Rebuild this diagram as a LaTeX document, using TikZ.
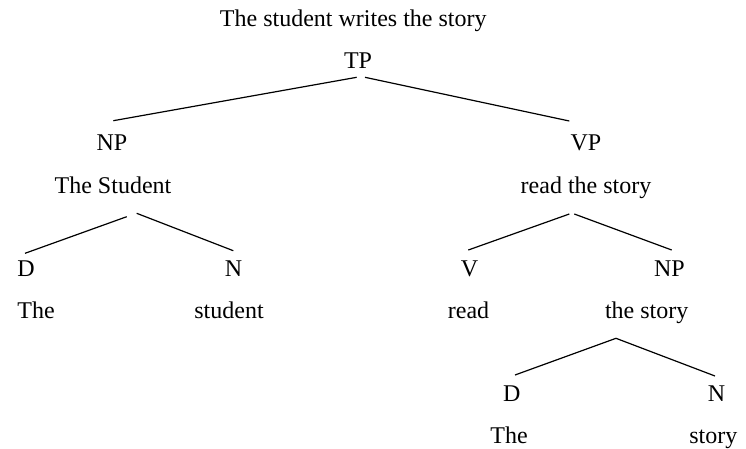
\documentclass[tikz,border=0pt]{standalone}
\usepackage{fontspec}
\setmainfont{Liberation Serif}
\usetikzlibrary{calc}
\begin{document}
\begin{tikzpicture}[x=1pt,y=-1pt,
  lbl/.style={anchor=base,inner sep=0pt,font=\fontsize{24}{28}\selectfont},
  branch/.style={line width=1.2pt}]
\useasboundingbox (0,0) rectangle (746,448);
% nodes
\node[lbl] (title) at (353.3,26.7) {The student writes the story};
\node[lbl] (TP) at (358,68) {TP};
\node[lbl] (NP) at (112,150.7) {NP};
\node[lbl] (VP) at (586,150.7) {VP};
\node[lbl] (NPw) at (113,193.3) {The Student};
\node[lbl] (VPw) at (586,193.3) {read the story};
\node[lbl] (D1) at (26,276.7) {D};
\node[lbl] (N1) at (233.5,276.7) {N};
\node[lbl] (V) at (469.5,276.7) {V};
\node[lbl] (NP2) at (669.5,276.7) {NP};
\node[lbl] (D1w) at (36,318.3) {The};
\node[lbl] (N1w) at (229,318.3) {student};
\node[lbl] (Vw) at (468.5,318.3) {read};
\node[lbl] (NP2w) at (646.7,318.3) {the story};
\node[lbl] (D2) at (511.7,401.7) {D};
\node[lbl] (N2) at (716.5,401.7) {N};
\node[lbl] (D2w) at (509,443.3) {The};
\node[lbl] (N2w) at (713.3,443.3) {story};
% branches
\draw[branch] ($(TP.base)+(-1.3,9.3)$) -- ($(NP.base)+(1.3,-30)$);
\draw[branch] ($(TP.base)+(7,9.3)$) -- ($(VP.base)+(-16.7,-29.7)$);
\draw[branch] ($(NPw.base)+(13.7,23.4)$) -- ($(D1.base)+(-1,-23.4)$);
\draw[branch] ($(NPw.base)+(23.7,20)$) -- ($(N1.base)+(-0.2,-26)$);
\draw[branch] ($(VPw.base)+(-16.7,20.7)$) -- ($(V.base)+(-1.2,-26.7)$);
\draw[branch] ($(VPw.base)+(-11.7,20.7)$) -- ($(NP2.base)+(2.2,-26.7)$);
\draw[branch] ($(NP2w.base)+(-30.7,20)$) -- ($(D2.base)+(3.3,-26.7)$);
\draw[branch] ($(NP2w.base)+(-30.7,20)$) -- ($(N2.base)+(-1.5,-25.7)$);
\end{tikzpicture}
\end{document}
